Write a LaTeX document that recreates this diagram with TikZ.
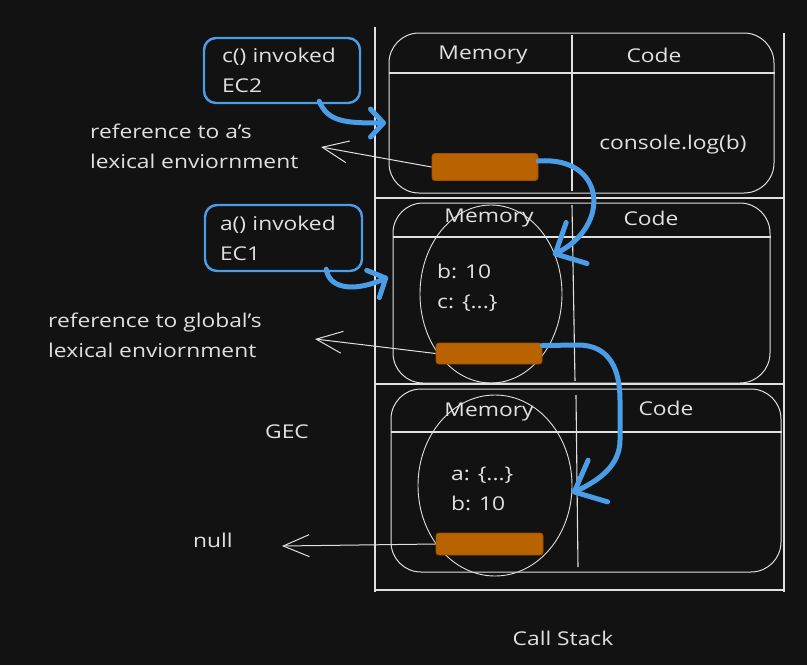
\documentclass[tikz,border=0pt]{standalone}
\usepackage{fontspec}
\setmainfont{Open Sans}[FakeStretch=1.2]
\usetikzlibrary{arrows.meta,calc,shapes.geometric}
\definecolor{bg}{HTML}{121212}
\definecolor{ink}{HTML}{E0E0E0}
\definecolor{blu}{RGB}{76,157,232}
\definecolor{org}{RGB}{184,98,0}
\tikzset{
  frame/.style={draw=ink, line width=1pt, rounded corners=30pt, inner sep=0pt},
  stackline/.style={draw=ink, line width=1.1pt},
  bar/.style={fill=org, draw=org!85!black, line width=0.8pt, rounded corners=3pt, inner sep=0pt},
  bluebox/.style={draw=blu, line width=2.4pt, rounded corners=12pt, inner sep=0pt, align=left},
  lbl/.style={align=left, inner sep=0pt, anchor=west},
  mem/.style={draw=ink, line width=0.9pt, ellipse, inner sep=0pt},
  bluearrow/.style={draw=blu, line width=5pt, line cap=round, line join=round},
  greyarrow/.style={draw=ink, line width=1pt, -{Straight Barb[length=26pt,width=22pt]}},
}
\begin{document}
\begin{tikzpicture}[x=1pt,y=-1pt,
  every node/.style={text=ink, font=\fontsize{19}{30}\selectfont}]
\fill[bg] (0,0) rectangle (807,665);
\useasboundingbox (0,0) rectangle (807,665);

% call stack outline
\draw[stackline] (375,27) -- (375,592);
\draw[stackline] (784,33) -- (784,592);
\draw[stackline] (375,198) -- (784,198);
\draw[stackline] (375,384) -- (784,384);
\draw[stackline] (375,590) -- (784,590);

% frames
\node[frame, minimum width=385pt, minimum height=160pt] (ec2) at (581.5,113) {};
\draw[stackline] (ec2.west |- 0,73) -- (ec2.east |- 0,73);
\draw[stackline] (572,35) -- (572,191);

\node[frame, minimum width=377pt, minimum height=180pt] (ec1) at (581.5,293) {};
\draw[stackline] (ec1.west |- 0,237) -- (ec1.east |- 0,237);
\draw[stackline] (572,205) -- (575,381);

\node[frame, minimum width=390pt, minimum height=183pt] (gec) at (586,480.5) {};
\draw[stackline] (gec.west |- 0,432) -- (gec.east |- 0,432);
\draw[stackline] (576,395) -- (578,567);

% memory ellipses
\node[mem, minimum width=142pt, minimum height=178pt] (m1) at (491,294) {};
\node[mem, minimum width=154pt, minimum height=181pt] (m0) at (495,485.5) {};

% headers
\node (h2m) at (483,55) {Memory};
\node (h2c) at (654,55) {Code};
\node (h1m) at (489,218) {Memory};
\node (h1c) at (651,218) {Code};
\node (h0m) at (489,412) {Memory};
\node (h0c) at (666,408) {Code};

% contents
\node (code2) at (673,145) {console.log(b)};
\node[lbl] (v1) at (437,288) {b: 10\\c: \{...\}};
\node[lbl] (v0) at (451,489) {a: \{...\}\\b: 10};

% bars
\node[bar, minimum width=106pt, minimum height=27pt] (bar2) at (485,167) {};
\node[bar, minimum width=106pt, minimum height=21pt] (bar1) at (489,353.5) {};
\node[bar, minimum width=107pt, minimum height=22pt] (bar0) at (489.5,544) {};

% blue boxes
\node[bluebox, minimum width=156pt, minimum height=65pt, text width=120pt] (cbox) at (282,70.5) {c() invoked\\EC2};
\node[bluebox, minimum width=157pt, minimum height=66pt, text width=127pt] (abox) at (283.5,238) {a() invoked\\EC1};

% side labels
\node[lbl] (ref2) at (90,146) {reference to a's\\lexical enviornment};
\node[lbl] (ref1) at (48,335) {reference to global's\\lexical enviornment};
\node[lbl] (nul) at (193,540) {null};
\node[lbl] (gecl) at (265,432) {GEC};
\node (cs) at (563,638) {Call Stack};

% grey reference arrows
\coordinate (r2tip) at (321,147);
\coordinate (r1tip) at (315,339);
\coordinate (r0tip) at (282,546);
\draw[greyarrow] (bar2.west) -- (r2tip);
\draw[greyarrow] (bar1.west) -- (r1tip);
\draw[greyarrow] (bar0.west) -- (r0tip);

% blue arrows
\coordinate (a1tip) at (386,123);
\coordinate (a2tip) at (388,277);
\coordinate (a3tip) at (553,255);
\coordinate (a4tip) at (572,493);
\draw[bluearrow, -{Straight Barb[length=13pt,width=28pt,round]}]
  ($(cbox.south east)+(-42,-3)$) .. controls (328,122) and (345,123) .. (a1tip);
\draw[bluearrow, -{Straight Barb[length=14pt,width=30pt,round]}]
  ($(abox.south east)+(-37,-3)$) .. controls (330,292) and (360,290) .. (a2tip);
\draw[bluearrow, -{Straight Barb[length=24pt,width=46pt,round]}]
  ($(bar2.east)+(0,-6)$) .. controls (605,156) and (612,225) .. (a3tip);
\draw[bluearrow, -{Straight Barb[length=26pt,width=46pt,round]}]
  ($(bar1.east)+(0,-8)$) -- (578,345) .. controls (610,345) and (620,370) .. (620,400)
  -- (620,440) .. controls (620,465) and (600,480) .. (a4tip);
\end{tikzpicture}
\end{document}
